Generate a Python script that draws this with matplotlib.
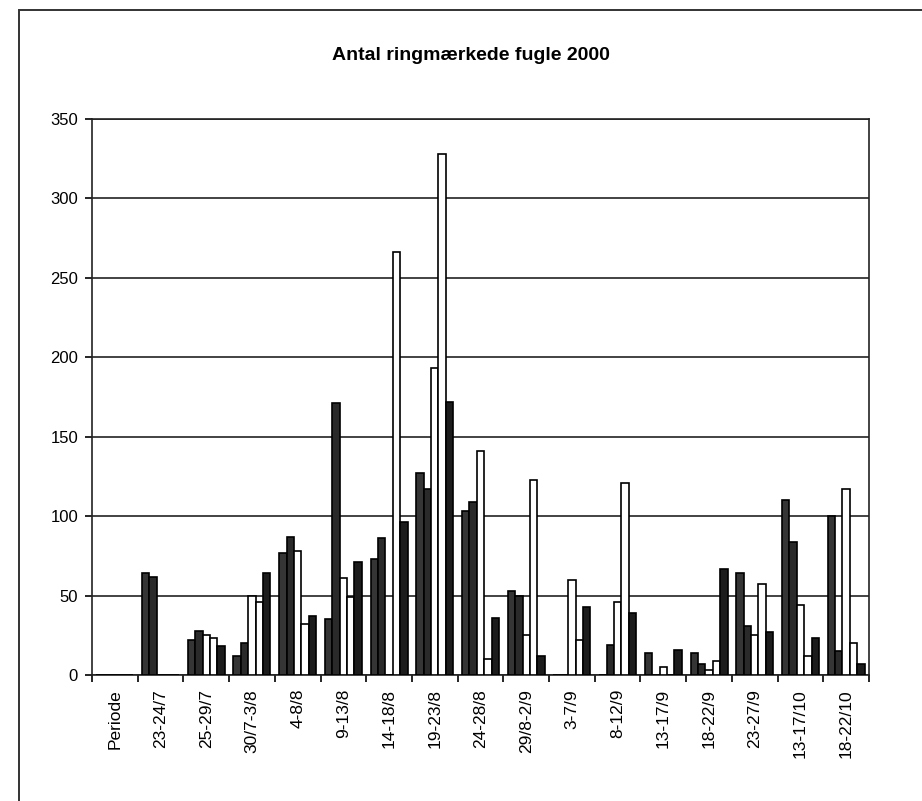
import numpy as np
import matplotlib.pyplot as plt
from matplotlib.patches import Rectangle

perioder = ['Periode', '23-24/7', '25-29/7', '30/7-3/8', '4-8/8', '9-13/8',
            '14-18/8', '19-23/8', '24-28/8', '29/8-2/9', '3-7/9', '8-12/9',
            '13-17/9', '18-22/9', '23-27/9', '13-17/10', '18-22/10']

# five series per period (no legend in the original)
serie1 = [0, 64, 22, 12, 77, 35, 73, 127, 103, 53, 0, 0, 14, 14, 64, 110, 100]
serie2 = [0, 62, 28, 20, 87, 171, 86, 117, 109, 50, 0, 19, 0, 7, 31, 84, 15]
serie3 = [0, 0, 25, 50, 78, 61, 0, 193, 141, 25, 60, 46, 5, 3, 25, 44, 117]
serie4 = [0, 0, 23, 46, 32, 49, 266, 328, 10, 123, 22, 121, 0, 9, 57, 12, 20]
serie5 = [0, 0, 18, 64, 37, 71, 96, 172, 36, 12, 43, 39, 16, 67, 27, 23, 7]

farver = ['#353535', '#2a2a2a', 'white', 'white', '#1c1c1c']
yticks = [0, 50, 100, 150, 200, 250, 300, 350]

plt.rcParams['font.family'] = ['Liberation Sans', 'DejaVu Sans']

W, H = 922, 801
fig = plt.figure(figsize=(W / 100, H / 100), dpi=100)
ax = fig.add_axes([92 / W, 1 - 675 / H, (869 - 92) / W, (675 - 119) / H])

x = np.arange(len(perioder))
bw = 0.162
for i, (serie, farve) in enumerate(zip([serie1, serie2, serie3, serie4, serie5], farver)):
    ax.bar(x + (i - 2) * bw, serie, width=bw, color=farve, edgecolor='black',
           linewidth=1.2, zorder=3)

ax.set_xlim(-0.5, len(perioder) - 0.5)
ax.set_ylim(0, 350)
ax.set_yticks(yticks)
ax.yaxis.grid(True, color='#222222', linewidth=1.2, zorder=1)
ax.tick_params(axis='y', labelsize=12, length=5, width=1.2, pad=5)

ax.set_xticks(x)
ax.set_xticklabels(perioder, rotation=90, fontsize=12.5)
ax.set_xticks(np.arange(len(perioder) + 1) - 0.5, minor=True)
ax.tick_params(axis='x', which='major', length=0, pad=10)
ax.tick_params(axis='x', which='minor', length=5, width=1.2)

for s in ax.spines.values():
    s.set_color('#222222')
    s.set_linewidth(1.2)

fig.text(471 / W, 1 - 55 / H, 'Antal ringmærkede fugle 2000', ha='center', va='center',
         fontsize=14, fontweight='bold')

# frame around the chart object (only left and top edges are on the page)
fig.patches.append(Rectangle((19 / W, -0.05), 1.0, 1 - 10 / H + 0.05,
                             transform=fig.transFigure, fill=False,
                             edgecolor='#333333', linewidth=1.4))

fig.savefig('out.png', dpi=100)
